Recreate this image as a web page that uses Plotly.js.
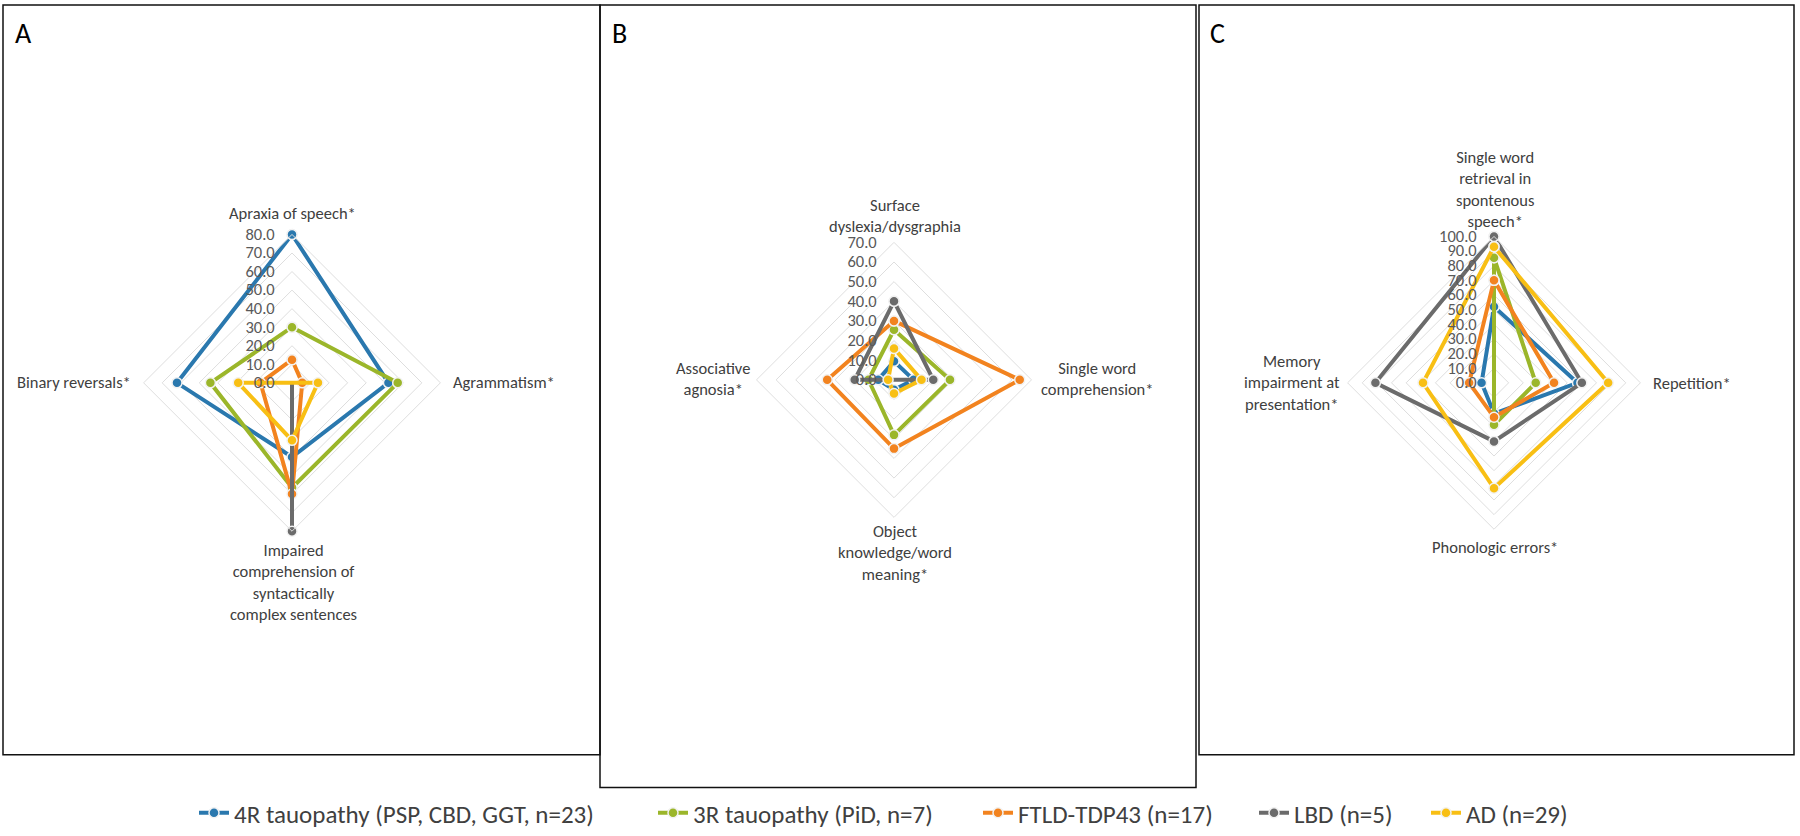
<!DOCTYPE html>
<html><head><meta charset="utf-8">
<script src="https://cdn.plot.ly/plotly-3.0.1.min.js"></script>
<style>html,body{margin:0;padding:0;background:#fff}#chart{width:1800px;height:836px}</style>
</head><body><div id="chart"></div>
<script>
// Series (groups)
const groupNames = ["4R tauopathy (PSP, CBD, GGT, n=23)", "3R tauopathy (PiD, n=7)", "FTLD-TDP43 (n=17)", "LBD (n=5)", "AD (n=29)"];
const groupColors = ["#2a78ae", "#9bb62a", "#f2831f", "#6b6b6b", "#f8bf14"];

// Panel A
const catsA = ["Apraxia of speech*", "Agrammatism*", "Impaired<br>comprehension of<br>syntactically<br>complex sentences", "Binary reversals*"];
const a4R  = [80, 52, 40, 62];
const a3R  = [30, 57, 56.5, 44];
const aTDP = [12.5, 5.5, 60, 17];
const aLBD = [0, 0, 80, 0];
const aAD  = [0, 14, 31, 29];

// Panel B
const catsB = ["Surface<br>dyslexia/dysgraphia", "Single word<br>comprehension*", "Object<br>knowledge/word<br>meaning*", "Associative<br>agnosia*"];
const b4R  = [9.5, 10, 5, 8];
const b3R  = [25.5, 28.5, 28, 13];
const bTDP = [30, 64, 35, 34];
const bLBD = [40, 20, 0, 20];
const bAD  = [16, 14, 7, 3];

// Panel C
const catsC = ["Single word<br>retrieval in<br>spontenous<br>speech*", "Repetition*", "Phonologic errors*", "Memory<br>impairment at<br>presentation*"];
const c4R  = [52, 57, 21, 8.5];
const c3R  = [85.5, 28.5, 28.7, 0];
const cTDP = [70, 41, 23.5, 17];
const cLBD = [100, 60, 40, 81];
const cAD  = [93, 78, 72, 48.5];

const panels = [
  {sub: "polar",  cats: catsA, series: [a4R, a3R, aTDP, aLBD, aAD], legend: true},
  {sub: "polar2", cats: catsB, series: [b4R, b3R, bTDP, bLBD, bAD], legend: false},
  {sub: "polar3", cats: catsC, series: [c4R, c3R, cTDP, cLBD, cAD], legend: false}
];
const legendIds = ["legend", "legend2", "legend3", "legend4", "legend5"];

const traces = [];
panels.forEach(p => {
  p.series.forEach((vals, i) => {
    traces.push({
      type: "scatterpolar",
      subplot: p.sub,
      mode: "lines+markers",
      r: vals.concat([vals[0]]),
      theta: p.cats.concat([p.cats[0]]),
      name: groupNames[i],
      legendgroup: groupNames[i],
      legend: legendIds[i],
      showlegend: p.legend,
      line: {color: groupColors[i], width: 4},
      marker: {color: groupColors[i], size: 10, line: {color: "#f2f2f2", width: 1.5}},
      cliponaxis: false,
      hoverinfo: "r+theta+name"
    });
  });
});

const FONT = "Carlito, Lato, 'Liberation Sans', sans-serif";
function polarCfg(domX, domY, maxR, cats) {
  return {
    domain: {x: domX, y: domY},
    bgcolor: "rgba(0,0,0,0)",
    gridshape: "linear",
    radialaxis: {
      range: [0, maxR], dtick: 10, tick0: 0, tickformat: ".1f",
      angle: 90, side: "counterclockwise", tickangle: 90,
      showline: false, ticks: "outside", ticklen: 11, tickcolor: "rgba(0,0,0,0)",
      gridcolor: "#dedede", gridwidth: 1,
      tickfont: {family: FONT, size: 16.5, color: "#595959"}
    },
    angularaxis: {
      type: "category", categoryarray: cats, rotation: 90, direction: "clockwise",
      showgrid: false, showline: true, linecolor: "#dedede", linewidth: 1, ticks: "",
      showticklabels: false
    }
  };
}

const W = 1800, H = 836;
function dom(cx, cy, r) {
  return [[(cx - r) / W, (cx + r) / W], [(H - cy - r) / H, (H - cy + r) / H]];
}
const dA = dom(292, 387, 150), dB = dom(894, 384, 139), dC = dom(1494, 387, 148);

// category label placement (pixel positions in the page)
function lab(text, px, py, xanchor) {
  return {text: text, xref: "paper", yref: "paper", x: px / W, y: 1 - py / H,
          xanchor: xanchor, yanchor: "middle", align: "center", showarrow: false,
          font: {family: FONT, size: 16.5, color: "#404040"}};
}
const catLabels = [
  lab(catsA[0], 292, 215, "center"),
  lab(catsA[1], 451, 386, "left"),
  lab(catsA[2], 293, 588, "center"),
  lab(catsA[3], 133, 386, "right"),
  lab(catsB[0], 895, 218, "center"),
  lab(catsB[1], 1097, 383, "center"),
  lab(catsB[2], 895, 559, "center"),
  lab(catsB[3], 713, 383, "center"),
  lab(catsC[0], 1495, 191, "center"),
  lab(catsC[1], 1651, 387, "left"),
  lab(catsC[2], 1495, 553, "center"),
  lab(catsC[3], 1292, 387, "center")
];

function letter(t, px) {
  return {text: t, xref: "paper", yref: "paper", x: px / W, y: 1 - 34 / H, xanchor: "left", yanchor: "middle",
          showarrow: false, font: {family: FONT, size: 28, color: "#000"}};
}

// one legend box per group, placed along the bottom
const legendX = [194, 653, 978, 1254, 1426];
function legendCfg(px) {
  return {orientation: "h", x: px / W, xanchor: "left", y: 14 / H, yanchor: "middle",
          bgcolor: "rgba(0,0,0,0)", font: {family: FONT, size: 25, color: "#404040"}, itemwidth: 30};
}

const layout = {
  width: W, height: H,
  margin: {l: 0, r: 0, t: 0, b: 0},
  paper_bgcolor: "#ffffff",
  font: {family: FONT, color: "#404040"},
  polar: polarCfg(dA[0], dA[1], 80, catsA),
  polar2: polarCfg(dB[0], dB[1], 70, catsB),
  polar3: polarCfg(dC[0], dC[1], 100, catsC),
  showlegend: true,
  legend: legendCfg(legendX[0]),
  legend2: legendCfg(legendX[1]),
  legend3: legendCfg(legendX[2]),
  legend4: legendCfg(legendX[3]),
  legend5: legendCfg(legendX[4]),
  shapes: [
    {type: "rect", xref: "paper", yref: "paper", x0: 3/W, x1: 600/W, y0: 1 - 763/H, y1: 1 - 5/H, line: {color: "#111", width: 1.5}},
    {type: "rect", xref: "paper", yref: "paper", x0: 600/W, x1: 1196/W, y0: 1 - 796/H, y1: 1 - 5/H, line: {color: "#111", width: 1.5}},
    {type: "rect", xref: "paper", yref: "paper", x0: 1199/W, x1: 1794/W, y0: 1 - 763/H, y1: 1 - 5/H, line: {color: "#111", width: 1.5}}
  ],
  annotations: [letter("A", 13), letter("B", 610), letter("C", 1208)].concat(catLabels)
};

Plotly.newPlot("chart", traces, layout, {displayModeBar: false, staticPlot: true});
</script>
</body></html>
